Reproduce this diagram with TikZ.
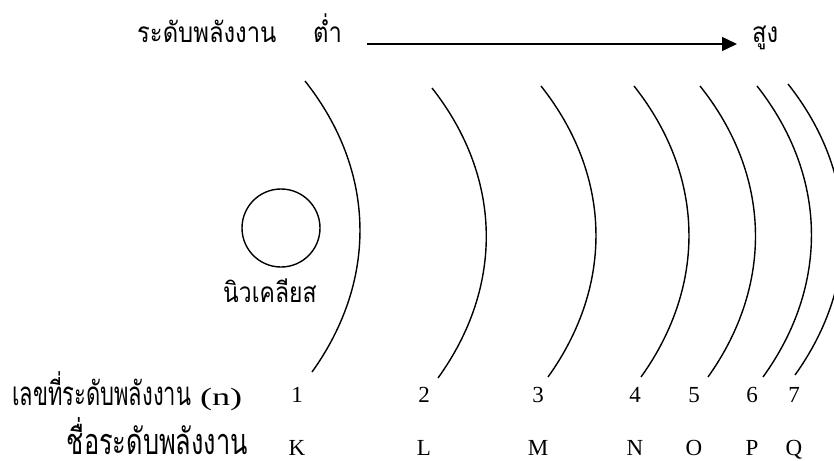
\documentclass[tikz,border=0pt]{standalone}
\usepackage{fontspec}
\newfontfamily\thaifont[Script=Thai]{Loma}
\newfontfamily\latinserif{Liberation Serif}
\usetikzlibrary{arrows.meta}
\newcommand{\topthai}[1]{\scalebox{0.85}[1]{#1}}
\newcommand{\rowthai}[1]{\scalebox{0.665}[1]{#1}}
\begin{document}
\begin{tikzpicture}[x=1pt,y=-1pt,
  toplabel/.style={font=\thaifont\fontsize{28}{32}\selectfont, inner sep=0pt},
  rowlabel/.style={font=\thaifont\fontsize{33}{36}\selectfont, inner sep=0pt},
  biglabel/.style={font=\thaifont\fontsize{36}{40}\selectfont, inner sep=0pt},
  rowitem/.style={font=\latinserif\fontsize{23}{27}\selectfont, inner sep=0pt},
  shell/.style={line width=1.4pt},
  nucleus/.style={circle, draw, line width=1.4pt, minimum size=78pt, inner sep=0pt},
  levelarrow/.style={line width=1.4pt, -{Triangle[length=15pt,width=14pt]}}]
\useasboundingbox (0,0) rectangle (834,460);
% top energy scale
\node[toplabel, anchor=base west] (energy) at (137,43) {\topthai{ระดับพลังงาน}};
\node[toplabel, anchor=base west] (low) at (313,43) {\topthai{ต่ำ}};
\node[toplabel, anchor=base west] (high) at (752,43) {\topthai{สูง}};
\coordinate (arrowstart) at (367,44);
\coordinate (arrowend) at (737,44);
\draw[levelarrow] (arrowstart) -- (arrowend);
% nucleus
\node[nucleus] (nuc) at (281,228) {};
\node[toplabel, anchor=base west] (nuclabel) at (223,302) {\scalebox{0.82}[1]{นิวเคลียส}};
% shells
\foreach \i/\xt/\yt/\xb/\yb in {1/305/81/312/372, 2/432/88/438/378, 3/541/86/548/377, 4/634/86/641/377, 5/700/86/708/377, 6/757/86/763/377, 7/788/84/795/375}{
  \coordinate (s\i t) at (\xt,\yt);
  \coordinate (s\i b) at (\xb,\yb);
  \draw[shell] (s\i t) to[bend left=37] (s\i b);
}
% rows
\node[rowlabel, anchor=base west] (nlabel) at (12,405) {\rowthai{เลขที่ระดับพลังงาน}\hspace{9pt}{\latinserif\fontsize{25}{29}\selectfont\scalebox{1.45}[1]{(n)}}};
\node[biglabel, anchor=base east] (namelabel) at (248,454) {\scalebox{0.705}[1]{ชื่อระดับพลังงาน}};
\foreach \x/\n/\l [count=\k] in {297/1/K, 424/2/L, 538/3/M, 635/4/N, 694/5/O, 752/6/P, 794/7/Q}{
  \node[rowitem, anchor=base] (num\k) at (\x,402) {\n};
  \node[rowitem, anchor=base] (name\k) at (\x,455) {\l};
}
\end{tikzpicture}
\end{document}
